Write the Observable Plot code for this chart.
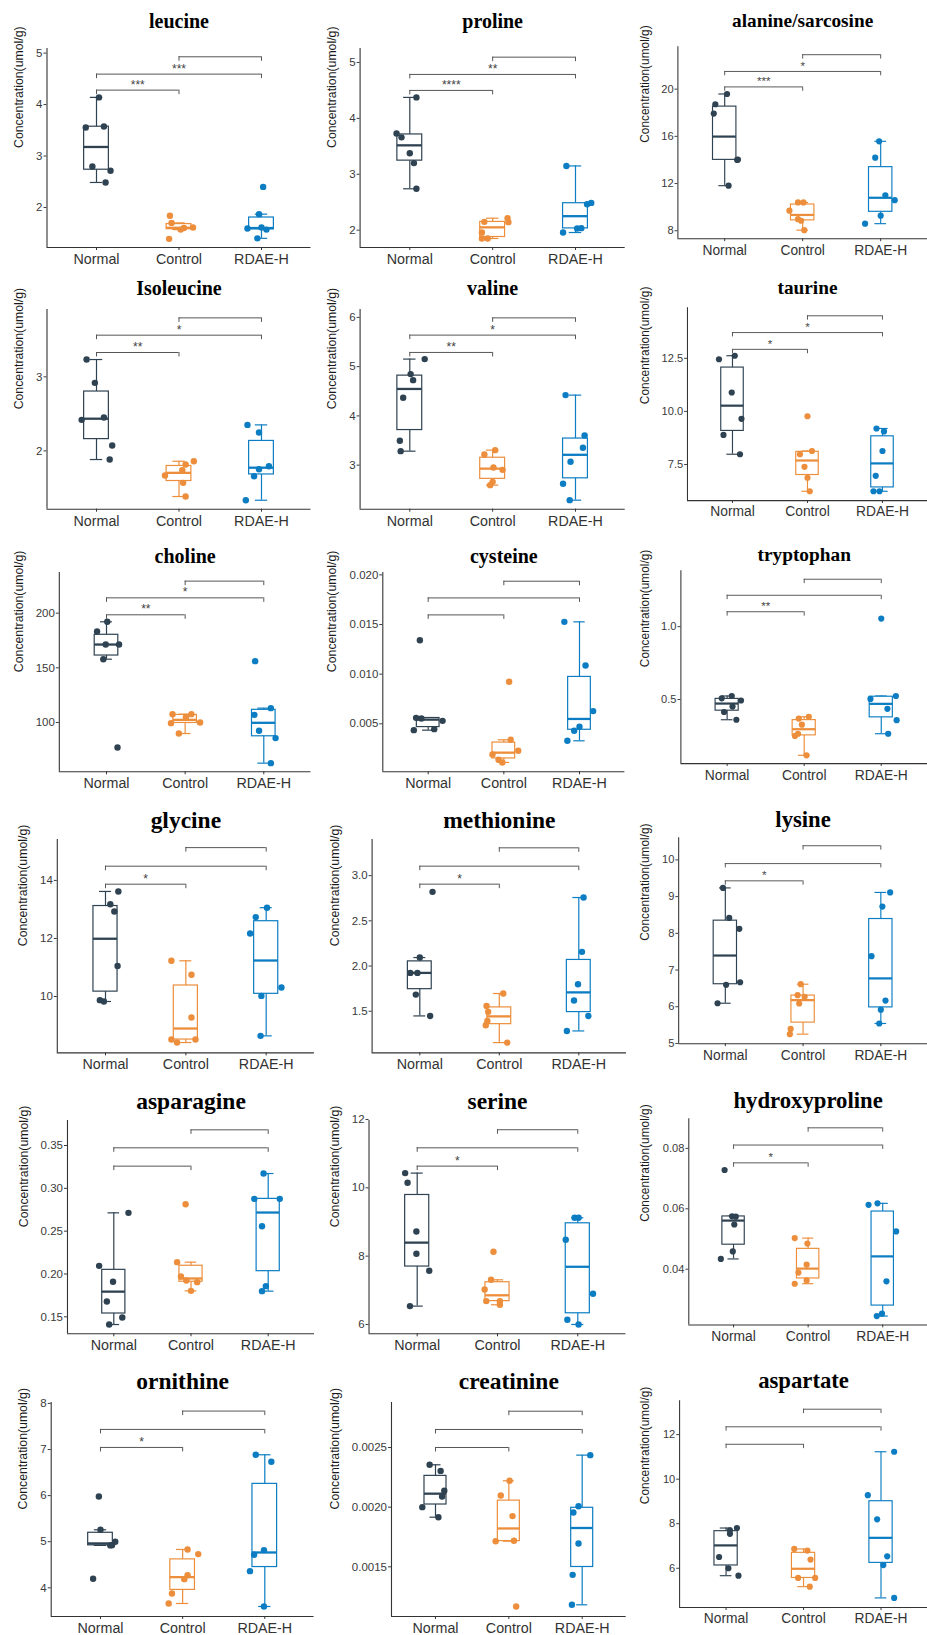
<!DOCTYPE html>
<html>
<head>
<meta charset="utf-8">
<script src="https://cdn.jsdelivr.net/npm/d3@7"></script>
<script src="https://cdn.jsdelivr.net/npm/@observablehq/plot@0.6"></script>
<style>
  html, body { margin: 0; padding: 0; background: #fff; overflow: hidden; }
  #page { position: relative; width: 927px; height: 1635px; overflow: hidden; }
  .panel { position: absolute; }
</style>
</head>
<body>
<div id="page"></div>
<script>
// ---- data ------------------------------------------------------------
const groups = ["Normal", "Control", "RDAE-H"];
const titles = ["leucine", "proline", "alanine/sarcosine", "Isoleucine", "valine", "taurine",
  "choline", "cysteine", "tryptophan", "glycine", "methionine", "lysine",
  "asparagine", "serine", "hydroxyproline", "ornithine", "creatinine", "aspartate"];

// concentrations (umol/g): [Normal, Control, RDAE-H], six animals per group
const leucine = [[4.14, 3.555, 3.575, 2.797, 2.713, 2.486], [1.84, 1.70, 1.61, 1.60, 1.57, 1.39], [2.40, 1.87, 1.59, 1.61, 1.57, 1.40]];
const proline = [[4.375, 3.73, 3.66, 3.375, 3.20, 2.74], [2.149, 2.214, 2.143, 1.958, 1.851, 1.851], [3.149, 2.464, 2.488, 1.958, 2.03, 2.036]];
const alanineSarcosine = [[19.59, 18.72, 17.93, 14.03, 14.0, 11.82], [10.4, 10.4, 9.70, 8.98, 8.85, 8.05], [15.58, 14.19, 11.0, 10.59, 9.28, 8.6]];
const isoleucine = [[3.234, 2.919, 2.45, 2.419, 2.072, 1.883], [1.86, 1.815, 1.739, 1.667, 1.568, 1.383], [2.351, 2.248, 1.793, 1.752, 1.658, 1.333]];
const valine = [[5.153, 4.848, 4.726, 4.368, 3.494, 3.284], [3.305, 3.217, 2.953, 2.905, 2.661, 2.594], [4.422, 3.603, 3.352, 3.068, 2.621, 2.289]];
const taurine = [[12.455, 12.62, 10.89, 9.65, 8.894, 7.985], [9.773, 8.136, 7.985, 7.394, 6.879, 6.242], [9.197, 9.06, 8.136, 6.97, 6.242, 6.242]];
const choline = [[192.1, 183.2, 171.3, 171.3, 157.9, 77.1], [107.6, 107.6, 104.8, 99.4, 100, 89.9], [156.1, 113.1, 107.0, 92.4, 85.7, 62.8]];
const cysteine = [[0.01342, 0.0056, 0.00554, 0.0053, 0.00446, 0.00436], [0.00923, 0.00339, 0.00228, 0.00191, 0.00138, 0.00111], [0.01527, 0.01087, 0.00628, 0.0047, 0.0043, 0.00329]];
const tryptophan = [[0.508, 0.524, 0.493, 0.451, 0.414, 0.361], [0.381, 0.369, 0.327, 0.265, 0.25, 0.117], [1.055, 0.524, 0.504, 0.436, 0.358, 0.265]];
const glycine = [[13.62, 13.18, 12.93, 11.05, 9.874, 9.828], [11.23, 10.747, 9.276, 8.517, 8.517, 8.414], [13.06, 12.736, 12.17, 10.31, 10.02, 8.644]];
const methionine = [[2.821, 2.094, 1.924, 1.924, 1.684, 1.448], [1.696, 1.559, 1.493, 1.393, 1.345, 1.153], [2.758, 2.157, 1.799, 1.618, 1.448, 1.282]];
const lysine = [[9.237, 8.42, 8.123, 6.667, 6.596, 6.096], [6.614, 6.316, 6.272, 6.088, 5.395, 5.254], [9.114, 8.728, 7.377, 6.167, 5.921, 5.544]];
const asparagine = [[0.2714, 0.2095, 0.1909, 0.1679, 0.1492, 0.141], [0.2815, 0.2138, 0.1971, 0.1924, 0.1905, 0.1803], [0.3173, 0.2877, 0.2877, 0.2558, 0.1858, 0.18]];
const serine = [[10.43, 10.146, 8.722, 8.068, 7.571, 6.537], [8.127, 7.307, 7.024, 6.683, 6.683, 6.576], [9.122, 9.122, 8.478, 6.898, 6.137, 6.0]];
const hydroxyproline = [[0.07285, 0.0575, 0.0574, 0.0548, 0.0459, 0.0434], [0.0503, 0.0485, 0.0415, 0.0389, 0.0363, 0.0352], [0.0613, 0.0618, 0.0525, 0.036, 0.0253, 0.0245]];
const ornithine = [[5.982, 5.259, 5.0, 4.926, 4.92, 4.195], [4.832, 4.731, 4.275, 4.188, 3.877, 3.66], [6.886, 6.734, 4.817, 4.716, 4.362, 3.595]];
const creatinine = [[0.002355, 0.002304, 0.002137, 0.002089, 0.002, 0.001916], [0.002221, 0.002098, 0.001925, 0.001715, 0.001718, 0.001168], [0.002436, 0.002008, 0.001955, 0.001696, 0.001433, 0.001182]];
const aspartate = [[7.807, 7.706, 7.547, 6.506, 6.0, 5.667], [6.867, 6.795, 6.39, 5.566, 5.566, 5.176], [11.23, 9.282, 8.197, 6.535, 6.145, 4.67]];

// horizontal jitter of each point, in category widths
const leucineJitter = [[0.03, -0.13, 0.09, -0.05, 0.17, 0.11], [-0.11, -0.09, 0.17, 0.06, 0.02, -0.12], [0.02, -0.03, -0.17, 0, 0.06, -0.05]];
const prolineJitter = [[0.08, -0.16, -0.10, 0, 0.05, 0.08], [-0.10, 0.18, 0.19, -0.13, -0.06, -0.13], [-0.11, 0.14, 0.19, -0.15, 0.02, 0.07]];
const alanineSarcosineJitter = [[0.03, -0.12, -0.14, 0.17, 0.16, 0.05], [-0.06, 0.01, -0.17, -0.06, -0.02, 0.02], [-0.02, -0.07, 0.06, 0.18, 0, -0.2]];
const isoleucineJitter = [[-0.12, -0.02, 0.09, -0.18, 0.19, 0.16], [0.18, 0.08, 0.04, -0.17, 0.05, 0.08], [-0.17, -0.03, 0.09, -0.03, -0.09, -0.19]];
const valineJitter = [[0.18, 0.01, 0.04, -0.08, -0.12, -0.11], [0.03, -0.10, 0.01, 0.12, 0, -0.03], [-0.12, 0.11, 0.09, -0.06, -0.15, -0.07]];
const taurineJitter = [[-0.18, 0.03, -0.01, 0.12, -0.12, 0.10], [0, 0.06, -0.10, -0.04, 0, 0.03], [-0.08, 0.02, 0, -0.09, -0.12, -0.04]];
const cholineJitter = [[0.01, -0.12, -0.01, 0.16, -0.04, 0.14], [-0.16, 0.08, 0.01, -0.18, 0.19, -0.08], [-0.11, 0.09, -0.12, -0.06, 0.15, 0.09]];
const cysteineJitter = [[-0.11, -0.16, -0.09, 0.19, 0.08, -0.19], [0.07, 0.09, 0.19, -0.15, -0.07, -0.02], [-0.2, 0.08, 0.18, 0, -0.07, -0.16]];
const tryptophanJitter = [[-0.07, 0.06, 0.18, 0.07, -0.04, 0.12], [0.06, -0.07, -0.03, -0.08, -0.12, 0.03], [0, 0.19, -0.14, 0.08, 0.2, 0.09]];
const glycineJitter = [[0.16, 0.06, 0.11, 0.15, -0.07, -0.02], [-0.18, 0.07, 0.07, -0.18, 0.12, -0.11], [0.01, -0.13, -0.2, 0.19, -0.06, -0.07]];
const methionineJitter = [[0.16, 0, -0.03, -0.12, -0.05, 0.13], [0.05, -0.16, -0.14, -0.15, -0.17, 0.10], [0.06, 0.04, -0.01, -0.06, 0.12, -0.15]];
const lysineJitter = [[-0.03, 0.05, 0.18, 0.19, 0.01, -0.10], [-0.03, -0.07, 0.02, -0.05, -0.16, -0.17], [0.12, 0.02, -0.12, 0.06, 0, -0.02]];
const asparagineJitter = [[0.19, -0.19, -0.01, -0.09, 0.11, -0.06], [-0.07, -0.18, -0.13, -0.06, 0.08, 0], [-0.06, -0.18, 0.15, -0.08, -0.03, -0.08]];
const serineJitter = [[-0.15, -0.12, -0.01, -0.01, 0.15, -0.09], [-0.05, -0.08, -0.16, -0.14, 0.03, 0.03], [-0.04, 0.01, -0.15, 0.19, -0.13, 0.01]];
const hydroxyprolineJitter = [[-0.12, -0.02, 0.03, 0.01, -0.01, -0.17], [-0.18, -0.01, -0.02, -0.13, -0.02, -0.18], [-0.19, -0.07, 0.18, 0.05, -0.01, -0.08]];
const ornithineJitter = [[-0.02, 0, 0.18, 0.14, 0.12, -0.09], [0.06, 0.19, 0.06, 0.02, -0.13, -0.17], [-0.11, 0.08, -0.01, -0.13, -0.18, -0.01]];
const creatinineJitter = [[-0.08, 0.07, 0.12, 0.09, -0.18, 0.04], [0.01, -0.11, 0.05, -0.18, 0.07, 0.10], [0.11, -0.05, -0.12, -0.05, -0.13, -0.14]];
const aspartateJitter = [[0.14, 0.05, 0.05, -0.09, 0.03, 0.16], [-0.12, 0.05, 0.09, -0.07, 0.15, 0.08], [0.17, -0.17, -0.05, 0.08, 0.03, 0.17]];

const concentrations = [leucine, proline, alanineSarcosine, isoleucine, valine, taurine,
  choline, cysteine, tryptophan, glycine, methionine, lysine,
  asparagine, serine, hydroxyproline, ornithine, creatinine, aspartate];
const jitters = [leucineJitter, prolineJitter, alanineSarcosineJitter, isoleucineJitter, valineJitter, taurineJitter,
  cholineJitter, cysteineJitter, tryptophanJitter, glycineJitter, methionineJitter, lysineJitter,
  asparagineJitter, serineJitter, hydroxyprolineJitter, ornithineJitter, creatinineJitter, aspartateJitter];

// y extent, tick values and tick label formats of each panel
const yDomains = [[1.222, 5.09], [1.69, 5.25], [7.32, 23.6], [1.212, 3.91], [2.106, 6.16], [5.803, 14.88],
  [54.9, 237.2], [0.000168, 0.02024], [0.06, 1.383], [8.057, 15.41], [1.039, 3.40], [4.99, 10.605],
  [0.1302, 0.3792], [5.727, 11.97], [0.02155, 0.0898], [3.378, 8.02], [0.001084, 0.002877], [4.236, 13.52]];
const yTicks = [[2, 3, 4, 5], [2, 3, 4, 5], [8, 12, 16, 20], [2, 3], [3, 4, 5, 6], [7.5, 10, 12.5],
  [100, 150, 200], [0.005, 0.01, 0.015, 0.02], [0.5, 1.0], [10, 12, 14], [1.5, 2.0, 2.5, 3.0], [5, 6, 7, 8, 9, 10],
  [0.15, 0.2, 0.25, 0.3, 0.35], [6, 8, 10, 12], [0.04, 0.06, 0.08], [4, 5, 6, 7, 8], [0.0015, 0.002, 0.0025], [6, 8, 10, 12]];
const yTickFormats = ["d", "d", "d", "d", "d", ".1f", "d", ".3f", ".1f", "d", ".1f", "d",
  ".2f", "d", ".2f", "d", ".4f", "d"];

// significance brackets: Normal–Control, Normal–RDAE-H, Control–RDAE-H
const comparisons = [[1, 2], [1, 3], [2, 3]];
const bracketHeights = [[4.281, 4.592, 4.929], [4.5, 4.786, 5.095], [20.19, 21.5, 22.92], [3.329, 3.563, 3.797],
  [5.288, 5.64, 5.99], [12.92, 13.71, 14.5], [198.5, 214.0, 229.3], [0.01597, 0.01768, 0.01936],
  [1.102, 1.215, 1.325], [13.87, 14.49, 15.13], [2.906, 3.105, 3.308], [9.43, 9.90, 10.386],
  [0.3259, 0.3473, 0.3683], [10.634, 11.17, 11.70], [0.0752, 0.0811, 0.0868], [7.045, 7.436, 7.834],
  [0.0025, 0.002651, 0.002804], [11.566, 12.35, 13.14]];
const bracketStars = [["***", "***", ""], ["****", "**", ""], ["***", "*", ""], ["**", "*", ""],
  ["**", "*", ""], ["*", "*", ""], ["**", "*", ""], ["", "", ""], ["**", "", ""],
  ["*", "", ""], ["*", "", ""], ["*", "", ""], ["", "", ""], ["*", "", ""], ["*", "", ""],
  ["*", "", ""], ["", "", ""], ["", "", ""]];

// ---- layout ----------------------------------------------------------
const palette = ["#2F4251", "#EC8E3B", "#0C7DC2"];
const rowFrameTop = [47.7, 309.3, 571.7, 839.3, 1120, 1401.7];
const rowFrameBottom = [246.7, 509, 771, 1052.7, 1333.3, 1615.7];
const rowTitleBaseline = [27.3, 295, 562, 827.7, 1108.7, 1388.3];
const rowTitleSize = [20, 20, 20, 23.5, 23.5, 23.5];
const colLeft = [0, 312, 627];
const panelNormalX = [96, 409.3, 727.7, 96, 409.3, 735.7, 106, 427.7, 730, 105, 419.3, 728.3, 113.3, 416.7, 736.7, 100, 435, 729];
const panelUnit = [82.5, 82.85, 80.8, 82.5, 82.85, 77.65, 78.65, 75.65, 79.65, 80.35, 79.5, 80.5, 77.2, 80.3, 77.15, 82.15, 73.35, 80.15];
const panelYTitleX = [18.3, 331.7, 645, 18.3, 331.7, 645, 18.3, 331.7, 645, 22.7, 334.3, 645, 24, 334.3, 645, 22.7, 334.3, 645];

const sans = "Liberation Sans, Arial, Helvetica, sans-serif";
const serif = "Liberation Serif, Times New Roman, serif";

function boxStats(vals) {
  const s = vals.slice().sort(d3.ascending);
  const q1 = d3.quantileSorted(s, 0.25);
  const med = d3.quantileSorted(s, 0.5);
  const q3 = d3.quantileSorted(s, 0.75);
  const iqr = q3 - q1;
  const lo = d3.min(s.filter(v => v >= q1 - 1.5 * iqr));
  const hi = d3.max(s.filter(v => v <= q3 + 1.5 * iqr));
  return {q1, med, q3, lo, hi};
}

const page = document.getElementById("page");

titles.forEach((title, i) => {
  const row = Math.floor(i / 3), col = i % 3;
  const left = colLeft[col];
  const fTop = rowFrameTop[row], fBot = rowFrameBottom[row];
  const u = panelUnit[i];
  const frameL = panelNormalX[i] - 0.6 * u;
  const frameR = panelNormalX[i] + 2.6 * u;
  const mTop = 52, mBottom = 34;
  const width = frameR - left;
  const height = mTop + (fBot - fTop) + mBottom;
  const [lo, hi] = yDomains[i];
  const tickLen = 4.5 * (hi - lo) / (fBot - fTop);

  const stats = concentrations[i].map((vals, g) => ({g: g + 1, color: palette[g], ...boxStats(vals)}));
  const points = concentrations[i].flatMap((vals, g) =>
    vals.map((v, k) => ({x: g + 1 + jitters[i][g][k], y: v, color: palette[g]})));
  const brackets = comparisons.map(([a, b], k) => ({a, b, y: bracketHeights[i][k], star: bracketStars[i][k]}));

  const line = {stroke: "color", strokeWidth: 1.2};
  const svg = Plot.plot({
    width, height,
    marginTop: mTop, marginBottom: mBottom, marginLeft: frameL - left, marginRight: 0,
    x: {domain: [0.4, 3.6]},
    y: {domain: [lo, hi]},
    color: {type: "identity"},
    style: {fontFamily: sans, background: "transparent", overflow: "visible"},
    marks: [
      // axis lines
      Plot.ruleX([0.4], {stroke: "#333", strokeWidth: 1.1}),
      Plot.ruleY([lo], {stroke: "#333", strokeWidth: 1.1}),
      Plot.axisY({ticks: yTicks[i], tickFormat: d3.format(yTickFormats[i]), tickSize: 3, tickPadding: 1.5,
        fontSize: 11.5, color: "#3a3a3a", label: null}),
      Plot.axisX({ticks: [1, 2, 3], tickFormat: d => groups[d - 1], tickSize: 3, tickPadding: 3.3,
        fontSize: 14.3, color: "#333", label: null}),
      // whiskers with caps
      Plot.ruleX(stats, {x: "g", y1: "lo", y2: "hi", ...line}),
      Plot.ruleY(stats, {x1: d => d.g - 0.075, x2: d => d.g + 0.075, y: "hi", ...line}),
      Plot.ruleY(stats, {x1: d => d.g - 0.075, x2: d => d.g + 0.075, y: "lo", ...line}),
      // boxes and medians
      Plot.rect(stats, {x1: d => d.g - 0.15, x2: d => d.g + 0.15, y1: "q1", y2: "q3", fill: "white", ...line}),
      Plot.ruleY(stats, {x1: d => d.g - 0.15, x2: d => d.g + 0.15, y: "med", stroke: "color", strokeWidth: 2.3}),
      // individual animals
      Plot.dot(points, {x: "x", y: "y", r: 3.2, fill: "color"}),
      // significance brackets
      Plot.ruleY(brackets, {x1: "a", x2: "b", y: "y", stroke: "#555", strokeWidth: 1}),
      Plot.ruleX(brackets, {x: "a", y1: "y", y2: d => d.y - tickLen, stroke: "#555", strokeWidth: 1}),
      Plot.ruleX(brackets, {x: "b", y1: "y", y2: d => d.y - tickLen, stroke: "#555", strokeWidth: 1}),
      Plot.text(brackets, {x: d => (d.a + d.b) / 2, y: "y", text: "star", lineAnchor: "bottom", dy: -1.5,
        fontSize: 12, fill: "#444"}),
      // panel title and y-axis title
      Plot.text([title], {frameAnchor: "top", dy: rowTitleBaseline[row] - fTop, lineAnchor: "bottom",
        fontSize: rowTitleSize[row], fontWeight: "bold", fontFamily: serif, fill: "#000"}),
      Plot.text(["Concentration(umol/g)"], {frameAnchor: "left", dx: panelYTitleX[i] - frameL, rotate: -90,
        fontSize: 12.3, fill: "#1a1a1a"})
    ]
  });
  const holder = document.createElement("div");
  holder.className = "panel";
  holder.style.left = left + "px";
  holder.style.top = (fTop - mTop) + "px";
  holder.appendChild(svg);
  page.appendChild(holder);
});
</script>
</body>
</html>
